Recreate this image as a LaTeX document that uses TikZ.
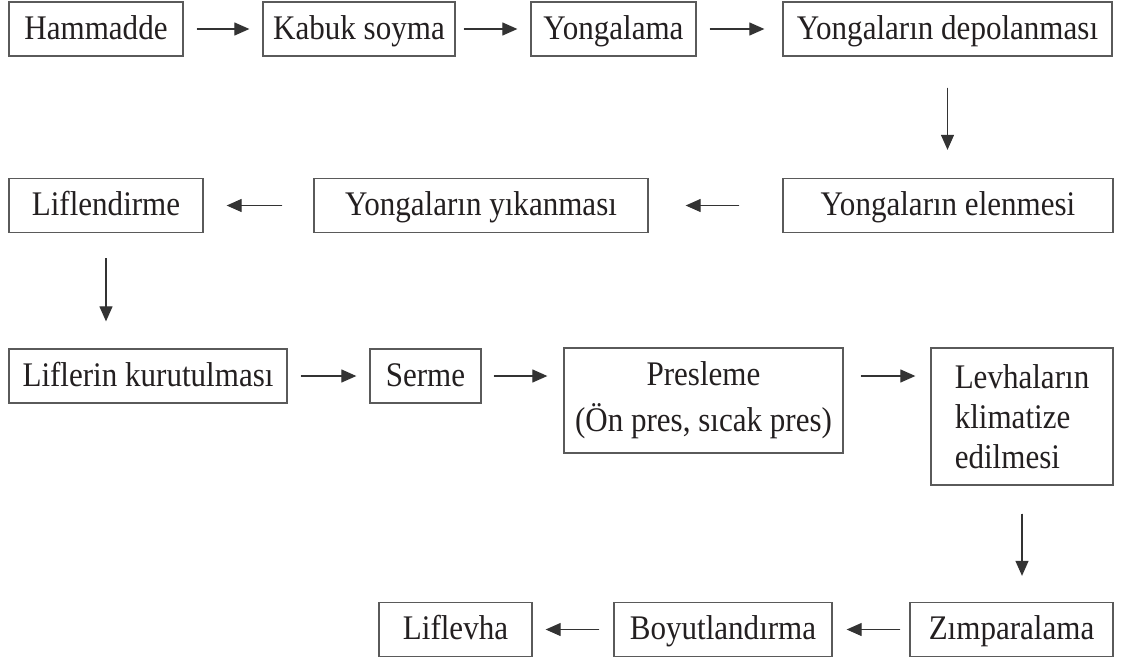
\documentclass[tikz,border=0pt]{standalone}
\usepackage{fontspec}
\setmainfont{Liberation Serif}[FakeStretch=0.9]
\usepackage{xcolor}
\usepackage{tikz}
\usetikzlibrary{arrows.meta}
\definecolor{LVline}{HTML}{5A5A5A}
\definecolor{LVarrow}{HTML}{333333}
\definecolor{LVtext}{HTML}{231F20}
\tikzset{
  procbox/.style={draw=LVline, line width=1.3pt, fill=white, align=center, inner sep=0pt, minimum height=54pt, text height=27pt, text depth=7pt, text=LVtext, font=\fontsize{34.5}{40}\selectfont},
  tallbox/.style={procbox, text height=, text depth=},
  procarr/.style={-{Triangle[length=15pt,width=13pt]}, line width=1.2pt, draw=LVarrow, fill=LVarrow, shorten <=13pt, shorten >=13pt},
  downarr/.style={procarr, shorten <=28pt, shorten >=27pt}
}

\begin{document}
\begin{tikzpicture}[x=1pt, y=-1pt]
\useasboundingbox (0,0) rectangle (1122,662);
% row 1
\node[procbox, minimum width=174pt] (ham) at (96,29) {Hammadde};
\node[procbox, minimum width=192pt] (kabuk) at (359,29) {Kabuk soyma};
\node[procbox, minimum width=165pt] (yong) at (613.5,29) {Yongalama};
\node[procbox, minimum width=329pt] (depo) at (947.5,29) {Yongaların depolanması};
% row 2
\node[procbox, minimum width=194pt] (lifl) at (106,205.5) {Liflendirme};
\node[procbox, minimum width=334pt] (yika) at (481,205.5) {Yongaların yıkanması};
\node[procbox, minimum width=330pt] (elen) at (948,205.5) {Yongaların elenmesi};
% row 3
\node[procbox, minimum width=278pt] (kuru) at (148,376) {Liflerin kurutulması};
\node[procbox, minimum width=111pt] (serme) at (425.5,376) {Serme};
\node[tallbox, minimum width=279pt, minimum height=105pt] (pres) at (703.5,400.5) {Presleme\\[6pt](Ön pres, sıcak pres)};
\node[tallbox, align=left, minimum width=182pt, minimum height=137pt] (klima) at (1022,416.5) {Levhaların\\klimatize\\edilmesi};
% row 4
\node[procbox, minimum width=153pt] (liflevha) at (455.5,629.5) {Liflevha};
\node[procbox, minimum width=218pt] (boyut) at (723,629.5) {Boyutlandırma};
\node[procbox, minimum width=203pt] (zimp) at (1011.5,629.5) {Zımparalama};

\draw[procarr] (ham) -- (kabuk);
\draw[procarr, shorten <=8pt] (kabuk) -- (yong);
\draw[procarr, shorten >=18pt] (yong) -- (depo);
\draw[downarr, shorten <=31pt, shorten >=28pt] (depo.south) -- (depo.south |- elen.north);
\draw[procarr, shorten <=43pt, shorten >=37pt] (elen) -- (yika);
\draw[procarr, shorten <=31pt, shorten >=23pt] (yika) -- (lifl);
\draw[downarr, shorten <=25pt] (lifl.south) -- (lifl.south |- kuru.north);
\draw[procarr] (kuru) -- (serme);
\draw[procarr, shorten <=12pt, shorten >=16pt] (serme.east) -- (serme.east -| pres.west);
\draw[procarr, shorten <=17pt, shorten >=15pt] (pres.east |- serme.east) -- (klima.west |- serme.east);
\draw[downarr, shorten >=26pt] (klima.south) -- (klima.south |- zimp.north);
\draw[procarr, shorten <=9pt, shorten >=14pt] (zimp) -- (boyut);
\draw[procarr, shorten <=14pt] (boyut) -- (liflevha);
\end{tikzpicture}
\end{document}
